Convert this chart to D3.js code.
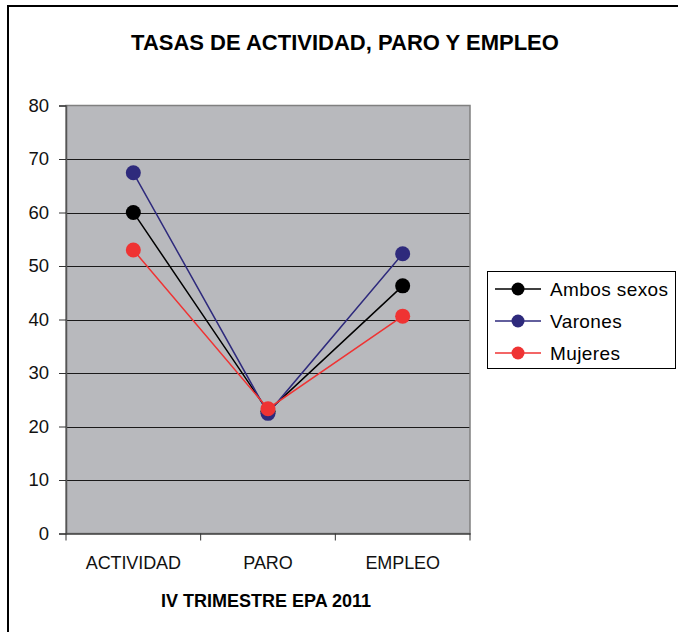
<!DOCTYPE html>
<html>
<head>
<meta charset="utf-8">
<script src="https://cdn.jsdelivr.net/npm/d3@7"></script>
<style>
  html, body { margin: 0; padding: 0; background: #fff; }
  svg text { font-family: "Liberation Sans", Arial, sans-serif; }
</style>
</head>
<body>
<svg id="chart" width="678" height="632"></svg>
<script>
// Tasas EPA, IV trimestre 2011
const categories = ["ACTIVIDAD", "PARO", "EMPLEO"];
const seriesNames = ["Ambos sexos", "Varones", "Mujeres"];
const ambosSexos = [60.01, 22.85, 46.29];
const varones = [67.42, 22.46, 52.28];
const mujeres = [52.99, 23.32, 40.63];
const yTicks = [0, 10, 20, 30, 40, 50, 60, 70, 80];
const title = "TASAS DE ACTIVIDAD, PARO Y EMPLEO";
const xTitle = "IV TRIMESTRE EPA 2011";

const colors = ["#000000", "#2e2a7c", "#ef3333"];
const series = [ambosSexos, varones, mujeres].map((values, i) => ({
  name: seriesNames[i], values, color: colors[i]
}));

const svg = d3.select("#chart");

// outer frame
svg.append("rect")
  .attr("x", 8).attr("y", 6).attr("width", 680).attr("height", 640)
  .attr("fill", "none").attr("stroke", "#000").attr("stroke-width", 2);

const plot = { left: 66, top: 105.5, right: 470, bottom: 533.5 };

const x = d3.scaleBand().domain(categories).range([plot.left, plot.right]);
const y = d3.scaleLinear().domain([0, 80]).range([plot.bottom, plot.top]);

// plot background
svg.append("rect")
  .attr("x", plot.left).attr("y", plot.top)
  .attr("width", plot.right - plot.left).attr("height", plot.bottom - plot.top)
  .attr("fill", "#b8b9bd");

// horizontal gridlines
svg.append("g").selectAll("line")
  .data(yTicks.filter(t => t > 0 && t < 80))
  .join("line")
  .attr("x1", plot.left).attr("x2", plot.right)
  .attr("y1", d => Math.round(y(d)) + 0.5).attr("y2", d => Math.round(y(d)) + 0.5)
  .attr("stroke", "#1a1a1a").attr("stroke-width", 1);

// plot border
svg.append("rect")
  .attr("x", plot.left).attr("y", plot.top)
  .attr("width", plot.right - plot.left).attr("height", plot.bottom - plot.top)
  .attr("fill", "none").attr("stroke", "#808080").attr("stroke-width", 1.5);

// y axis
const yAxis = svg.append("g")
  .attr("transform", `translate(${plot.left},0)`)
  .call(d3.axisLeft(y).tickValues(yTicks).tickSize(7).tickPadding(10).tickFormat(d3.format("d")));
yAxis.select(".domain").attr("stroke", "#555").attr("stroke-width", 1.5);
yAxis.selectAll(".tick line").attr("stroke", "#333");
yAxis.selectAll(".tick text")
  .attr("font-size", 18.5).attr("fill", "#111")
  .style("font-family", "'Liberation Sans', Arial, sans-serif");

// x axis
const xAxis = svg.append("g")
  .attr("transform", `translate(0,${plot.bottom})`)
  .call(d3.axisBottom(x).tickSize(0).tickPadding(23));
xAxis.select(".domain").attr("stroke", "#444").attr("stroke-width", 1.5);
xAxis.selectAll(".tick text")
  .attr("font-size", 18).attr("fill", "#111").attr("letter-spacing", -0.1)
  .style("font-family", "'Liberation Sans', Arial, sans-serif");
// category separators below the axis
svg.append("g").selectAll("line")
  .data([plot.left, ...categories.map(c => x(c) + x.bandwidth())])
  .join("line")
  .attr("x1", d => d).attr("x2", d => d)
  .attr("y1", plot.bottom).attr("y2", plot.bottom + 7)
  .attr("stroke", "#333").attr("stroke-width", 1);

// series lines and markers
const cx = c => x(c) + x.bandwidth() / 2;
const line = d3.line().x((d, i) => cx(categories[i])).y(d => y(d));
series.forEach(s => {
  const g = svg.append("g");
  g.append("path").datum(s.values)
    .attr("d", line).attr("fill", "none")
    .attr("stroke", s.color).attr("stroke-width", 1.5);
  g.selectAll("circle").data(s.values).join("circle")
    .attr("cx", (d, i) => cx(categories[i])).attr("cy", d => y(d))
    .attr("r", 7.5).attr("fill", s.color);
});

// titles
svg.append("text")
  .attr("x", 345).attr("y", 50).attr("text-anchor", "middle")
  .attr("font-size", 22).attr("font-weight", "bold").attr("fill", "#000")
  .text(title);
svg.append("text")
  .attr("x", 266).attr("y", 607).attr("text-anchor", "middle")
  .attr("font-size", 18).attr("font-weight", "bold").attr("fill", "#000")
  .text(xTitle);

// legend
const legend = svg.append("g");
legend.append("rect")
  .attr("x", 487.5).attr("y", 271.5).attr("width", 188).attr("height", 97)
  .attr("fill", "#fff").attr("stroke", "#000").attr("stroke-width", 1);
series.forEach((s, i) => {
  const ly = 289 + i * 32;
  legend.append("line")
    .attr("x1", 495).attr("x2", 541).attr("y1", ly).attr("y2", ly)
    .attr("stroke", s.color).attr("stroke-width", 1.5);
  legend.append("circle")
    .attr("cx", 518).attr("cy", ly).attr("r", 6.5).attr("fill", s.color);
  legend.append("text")
    .attr("x", 550).attr("y", ly + 7)
    .attr("font-size", 19).attr("fill", "#000").attr("letter-spacing", 0.4)
    .text(s.name);
});
</script>
</body>
</html>
